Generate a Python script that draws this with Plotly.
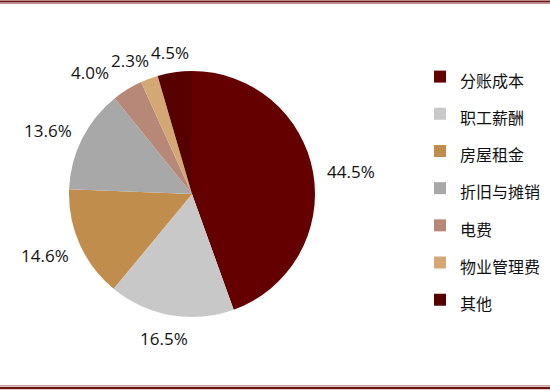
import math
import plotly.graph_objects as go

categories = ["分账成本", "职工薪酬", "房屋租金", "折旧与摊销", "电费", "物业管理费", "其他"]
shares = [44.5, 16.5, 14.6, 13.6, 4.0, 2.3, 4.5]
colors = ["#650000", "#C8C8C8", "#C08D4C", "#A8A8A8", "#B78878", "#D3A874", "#560000"]

W, H = 550, 390
cx, cy, R = 192, 194, 123  # pie centre / radius in pixels (from top-left)

fig = go.Figure()
fig.add_trace(go.Pie(
    labels=[f'<span style="font-size:16px">{c}</span>' for c in categories],
    values=shares,
    sort=False,
    direction="clockwise",
    rotation=0,
    marker=dict(colors=colors, line=dict(width=0)),
    textinfo="none",
    hoverinfo="label+percent",
    domain=dict(x=[(cx - R) / W, (cx + R) / W], y=[(H - cy - R) / H, (H - cy + R) / H]),
))

# outside percentage labels, placed from each slice's mid-angle
total = sum(shares)
cum = 0.0
gap = 14
fs = 17
boxes = []
for v in shares:
    mid = (cum + v / 2) / total * 2 * math.pi
    cum += v
    s, c = math.sin(mid), math.cos(mid)
    txt = f"{v:.1f}%"
    tw = sum(9.7 if ch.isdigit() else 4.6 if ch == "." else 14.1 for ch in txt)
    hw, hh = tw / 2, 8
    px = cx + (R + gap) * s + hw * s
    py = cy - (R + gap) * c - hh * c + 2
    boxes.append([px, py, hw, hh, s, txt])

# simple collision avoidance: walk backwards, push a label sideways if it hits the next one
for i in range(len(boxes) - 2, -1, -1):
    a, b = boxes[i], boxes[i + 1]
    if abs(a[0] - b[0]) < a[2] + b[2] + 2 and abs(a[1] - b[1]) < a[3] + b[3]:
        direction = -1 if a[4] < 0 else 1
        a[0] = b[0] + direction * (a[2] + b[2] + 2)

annotations = []
for px, py, hw, hh, s, txt in boxes:
    annotations.append(dict(
        x=px / W, y=1 - py / H, xref="paper", yref="paper",
        text=txt, showarrow=False, xanchor="center", yanchor="middle",
        font=dict(family="Open Sans", size=fs, color="#111111"),
    ))

shapes = [
    dict(type="line", xref="paper", yref="paper", x0=0, x1=1, y0=1 - 1.5 / H, y1=1 - 1.5 / H,
         line=dict(color="#6B1414", width=2)),
    dict(type="line", xref="paper", yref="paper", x0=0, x1=1, y0=1 - 3.5 / H, y1=1 - 3.5 / H,
         line=dict(color="#B98A8A", width=1)),
    dict(type="line", xref="paper", yref="paper", x0=0, x1=1, y0=4.5 / H, y1=4.5 / H,
         line=dict(color="#C9A0A0", width=1)),
    dict(type="line", xref="paper", yref="paper", x0=0, x1=1, y0=2 / H, y1=2 / H,
         line=dict(color="#6B1414", width=2.5)),
]

fig.update_layout(
    width=W, height=H,
    margin=dict(l=0, r=0, t=0, b=0),
    paper_bgcolor="white", plot_bgcolor="white",
    showlegend=True,
    legend=dict(
        x=(440 - 20) / W, y=1 - 53 / H, xanchor="left", yanchor="top",
        font=dict(family="Noto Sans CJK SC", size=26.3, color="#111111"),
        bgcolor="rgba(0,0,0,0)", borderwidth=0,
    ),
    annotations=annotations,
    shapes=shapes,
)

fig.write_html("out.html")
